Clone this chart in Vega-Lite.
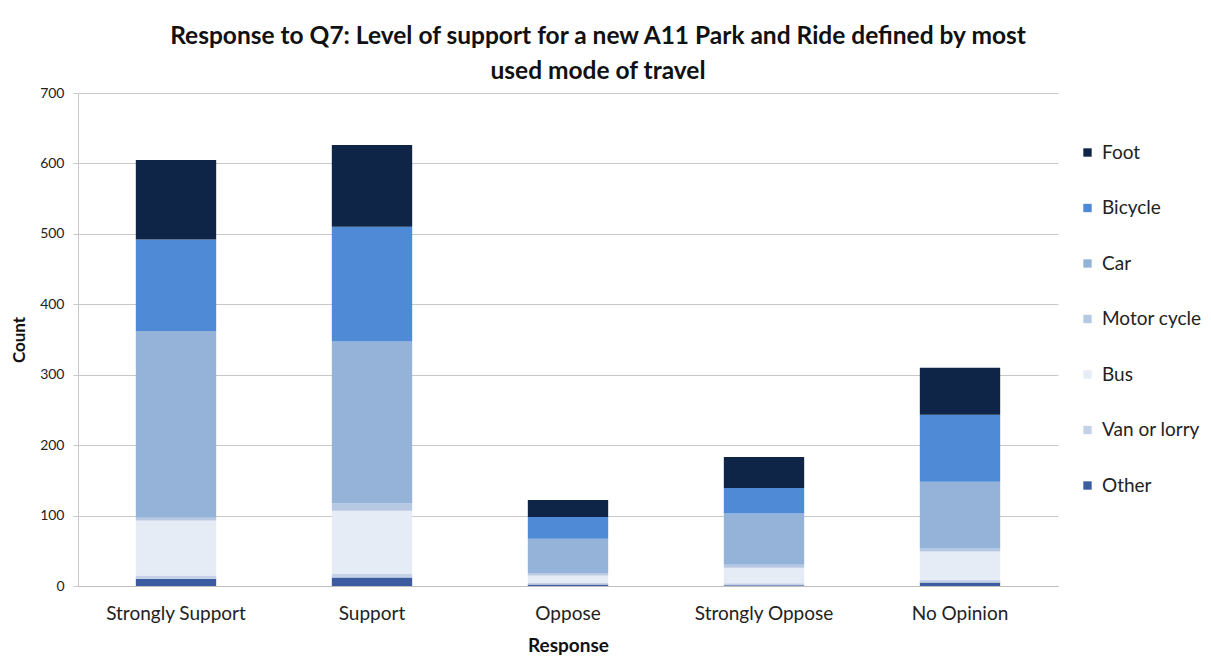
{
  "$schema": "https://vega.github.io/schema/vega-lite/v6.json",
  "width": 980,
  "height": 493,
  "autosize": "none",
  "padding": {"left": 78, "top": 93, "right": 153, "bottom": 78},
  "background": "white",
  "title": {
    "text": ["Response to Q7: Level of support for a new A11 Park and Ride defined by most", "used mode of travel"],
    "font": "Lato",
    "fontSize": 24.5,
    "fontWeight": "bold",
    "color": "#111111",
    "anchor": "middle",
    "dx": 30,
    "lineHeight": 35,
    "offset": 2
  },
  "config": {
    "view": {"stroke": null},
    "font": "Lato",
    "axis": {"labelFont": "Lato", "titleFont": "Lato", "labelColor": "#222222", "titleColor": "#111111"}
  },
  "data": {
    "values": [
      {"response": "Strongly Support", "mode": "Other", "modeIndex": 7, "count": 10},
      {"response": "Strongly Support", "mode": "Van or lorry", "modeIndex": 6, "count": 5},
      {"response": "Strongly Support", "mode": "Bus", "modeIndex": 5, "count": 78},
      {"response": "Strongly Support", "mode": "Motor cycle", "modeIndex": 4, "count": 4},
      {"response": "Strongly Support", "mode": "Car", "modeIndex": 3, "count": 265},
      {"response": "Strongly Support", "mode": "Bicycle", "modeIndex": 2, "count": 130},
      {"response": "Strongly Support", "mode": "Foot", "modeIndex": 1, "count": 113},
      {"response": "Support", "mode": "Other", "modeIndex": 7, "count": 12},
      {"response": "Support", "mode": "Van or lorry", "modeIndex": 6, "count": 5},
      {"response": "Support", "mode": "Bus", "modeIndex": 5, "count": 90},
      {"response": "Support", "mode": "Motor cycle", "modeIndex": 4, "count": 10},
      {"response": "Support", "mode": "Car", "modeIndex": 3, "count": 230},
      {"response": "Support", "mode": "Bicycle", "modeIndex": 2, "count": 163},
      {"response": "Support", "mode": "Foot", "modeIndex": 1, "count": 116},
      {"response": "Oppose", "mode": "Other", "modeIndex": 7, "count": 2},
      {"response": "Oppose", "mode": "Van or lorry", "modeIndex": 6, "count": 3},
      {"response": "Oppose", "mode": "Bus", "modeIndex": 5, "count": 10},
      {"response": "Oppose", "mode": "Motor cycle", "modeIndex": 4, "count": 3},
      {"response": "Oppose", "mode": "Car", "modeIndex": 3, "count": 49},
      {"response": "Oppose", "mode": "Bicycle", "modeIndex": 2, "count": 31},
      {"response": "Oppose", "mode": "Foot", "modeIndex": 1, "count": 24},
      {"response": "Strongly Oppose", "mode": "Other", "modeIndex": 7, "count": 1},
      {"response": "Strongly Oppose", "mode": "Van or lorry", "modeIndex": 6, "count": 3},
      {"response": "Strongly Oppose", "mode": "Bus", "modeIndex": 5, "count": 22},
      {"response": "Strongly Oppose", "mode": "Motor cycle", "modeIndex": 4, "count": 4},
      {"response": "Strongly Oppose", "mode": "Car", "modeIndex": 3, "count": 73},
      {"response": "Strongly Oppose", "mode": "Bicycle", "modeIndex": 2, "count": 36},
      {"response": "Strongly Oppose", "mode": "Foot", "modeIndex": 1, "count": 44},
      {"response": "No Opinion", "mode": "Other", "modeIndex": 7, "count": 5},
      {"response": "No Opinion", "mode": "Van or lorry", "modeIndex": 6, "count": 4},
      {"response": "No Opinion", "mode": "Bus", "modeIndex": 5, "count": 40},
      {"response": "No Opinion", "mode": "Motor cycle", "modeIndex": 4, "count": 5},
      {"response": "No Opinion", "mode": "Car", "modeIndex": 3, "count": 94},
      {"response": "No Opinion", "mode": "Bicycle", "modeIndex": 2, "count": 95},
      {"response": "No Opinion", "mode": "Foot", "modeIndex": 1, "count": 67}
    ]
  },
  "mark": {"type": "bar"},
  "encoding": {
    "x": {
      "field": "response",
      "type": "nominal",
      "sort": ["Strongly Support", "Support", "Oppose", "Strongly Oppose", "No Opinion"],
      "scale": {"paddingInner": 0.59, "paddingOuter": 0.295},
      "axis": {
        "title": "Response",
        "titleFontSize": 19,
        "titleFontWeight": "bold",
        "titlePadding": 13,
        "labelFontSize": 19,
        "labelAngle": 0,
        "labelPadding": 18,
        "ticks": false,
        "domainColor": "#bdbdbd"
      }
    },
    "y": {
      "field": "count",
      "type": "quantitative",
      "aggregate": "sum",
      "stack": "zero",
      "scale": {"domain": [0, 700]},
      "axis": {
        "title": "Count",
        "titleFontSize": 17,
        "titleFontWeight": "bold",
        "titlePadding": 11,
        "labelFontSize": 14,
        "values": [0, 100, 200, 300, 400, 500, 600, 700],
        "labelPadding": 9,
        "gridColor": "#c8c8c8",
        "domainColor": "#c8c8c8",
        "tickColor": "#c8c8c8",
        "tickSize": 5
      }
    },
    "color": {
      "field": "mode",
      "type": "nominal",
      "scale": {
        "domain": ["Foot", "Bicycle", "Car", "Motor cycle", "Bus", "Van or lorry", "Other"],
        "range": ["#0f2547", "#4f8ad6", "#95b3d9", "#b7c9e2", "#e6ecf5", "#c5d1e6", "#3b5ca0"]
      },
      "legend": {
        "title": null,
        "orient": "none",
        "legendX": 1000,
        "legendY": 50,
        "symbolType": "square",
        "symbolSize": 70,
        "labelFontSize": 19,
        "labelFont": "Lato",
        "labelColor": "#222222",
        "rowPadding": 35.5,
        "labelOffset": 5
      }
    },
    "order": {"field": "modeIndex", "type": "quantitative", "sort": "descending"}
  }
}
